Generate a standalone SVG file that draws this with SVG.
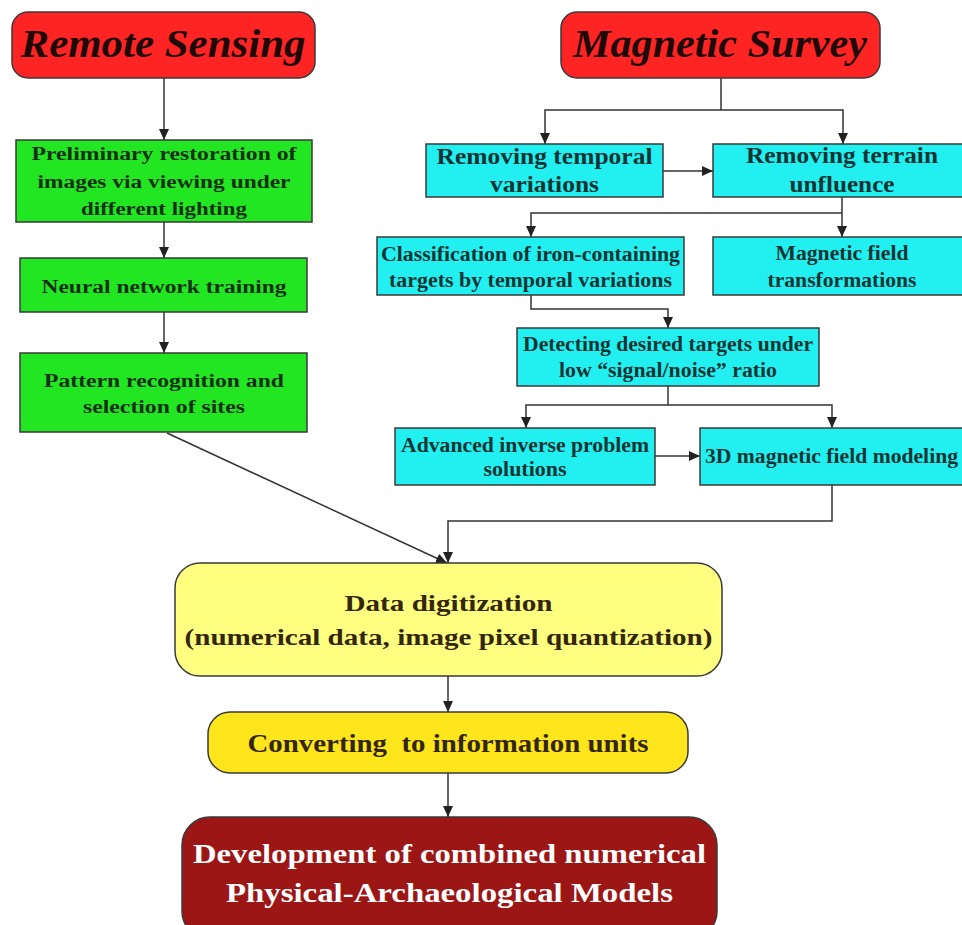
<svg xmlns="http://www.w3.org/2000/svg" width="962" height="925" viewBox="0 0 962 925">
<style>
text{font-family:'Liberation Serif','Tinos','Times New Roman',serif;font-weight:bold;text-anchor:middle}
.box{stroke:#3a3a3a;stroke-width:1.5}
.red{fill:#ff2424}
.grn{fill:#22e622}
.cyn{fill:#22f0f0}
.yl1{fill:#ffff80}
.yl2{fill:#ffe51c}
.drd{fill:#9c1616}
.title{font-style:italic;font-size:40.5px;fill:#1e0808}
.tg{font-size:18.5px;fill:#163016}
.tc{font-size:23px;fill:#0e3434}
.tcs{font-size:20px;fill:#0e3434}
.ty{font-size:23.5px;fill:#33260a}
.ty2{font-size:26px;fill:#33260a;white-space:pre}
.tw{font-size:26.5px;fill:#ffffff}
.conn path{fill:none;stroke:#333;stroke-width:1.5}
</style>
<defs>
<marker id="ah" markerUnits="userSpaceOnUse" markerWidth="11" markerHeight="10" refX="11" refY="5" orient="auto">
<path d="M0,0 L11,5 L0,10 z" fill="#222"/>
</marker>
</defs>
<rect width="962" height="925" fill="#ffffff"/>

<g id="connectors" class="conn">
<path d="M164,78 V140" marker-end="url(#ah)"/>
<path d="M164,222 V258" marker-end="url(#ah)"/>
<path d="M164,312 V353" marker-end="url(#ah)"/>
<path d="M167,433 L447,563" marker-end="url(#ah)"/>
<path d="M721,78 V110"/>
<path d="M721,110 H545 V144" marker-end="url(#ah)"/>
<path d="M721,110 H843 V144" marker-end="url(#ah)"/>
<path d="M663,171 H713" marker-end="url(#ah)"/>
<path d="M842,197 V237" marker-end="url(#ah)"/>
<path d="M842,213 H531 V237" marker-end="url(#ah)"/>
<path d="M531,295 V309 H668 V328" marker-end="url(#ah)"/>
<path d="M668,386 V405"/>
<path d="M668,405 H526 V428" marker-end="url(#ah)"/>
<path d="M668,405 H832 V428" marker-end="url(#ah)"/>
<path d="M655,456 H700" marker-end="url(#ah)"/>
<path d="M832,485 V521 H448 V563" marker-end="url(#ah)"/>
<path d="M448,676 V712" marker-end="url(#ah)"/>
<path d="M448,773 V817" marker-end="url(#ah)"/>
</g>

<g id="remote-sensing">
<rect class="box red" x="12" y="12" width="303" height="66" rx="16"/>
<text class="title" x="163" y="57" textLength="285" lengthAdjust="spacingAndGlyphs">Remote Sensing</text>
</g>
<g id="magnetic-survey">
<rect class="box red" x="561" y="12" width="319" height="66" rx="16"/>
<text class="title" x="720" y="57" textLength="294" lengthAdjust="spacingAndGlyphs">Magnetic Survey</text>
</g>

<g id="preliminary-restoration">
<rect class="box grn" x="16" y="140" width="296" height="82"/>
<text class="tg" x="164" y="160" textLength="265" lengthAdjust="spacingAndGlyphs">Preliminary restoration of</text>
<text class="tg" x="164" y="188" textLength="253" lengthAdjust="spacingAndGlyphs">images via viewing under</text>
<text class="tg" x="164" y="215" textLength="166" lengthAdjust="spacingAndGlyphs">different lighting</text>
</g>
<g id="neural-network">
<rect class="box grn" x="20" y="258" width="287" height="54"/>
<text class="tg" x="164" y="293" textLength="245" lengthAdjust="spacingAndGlyphs">Neural network training</text>
</g>
<g id="pattern-recognition">
<rect class="box grn" x="20" y="353" width="287" height="79"/>
<text class="tg" x="164" y="387" textLength="240" lengthAdjust="spacingAndGlyphs">Pattern recognition and</text>
<text class="tg" x="164" y="413" textLength="162" lengthAdjust="spacingAndGlyphs">selection of sites</text>
</g>

<g id="removing-temporal">
<rect class="box cyn" x="426" y="144" width="237" height="53"/>
<text class="tc" x="544.5" y="164" textLength="216" lengthAdjust="spacingAndGlyphs">Removing temporal</text>
<text class="tc" x="544.5" y="192" textLength="109" lengthAdjust="spacingAndGlyphs">variations</text>
</g>
<g id="removing-terrain">
<rect class="box cyn" x="713" y="144" width="258" height="53"/>
<text class="tc" x="842" y="163" textLength="192" lengthAdjust="spacingAndGlyphs">Removing terrain</text>
<text class="tc" x="842" y="192" textLength="105" lengthAdjust="spacingAndGlyphs">unfluence</text>
</g>
<g id="classification">
<rect class="box cyn" x="377" y="237" width="307" height="58"/>
<text class="tcs" x="530.5" y="261" textLength="299" lengthAdjust="spacingAndGlyphs">Classification of iron-containing</text>
<text class="tcs" x="530.5" y="287" textLength="283" lengthAdjust="spacingAndGlyphs">targets by temporal variations</text>
</g>
<g id="field-transformations">
<rect class="box cyn" x="713" y="237" width="258" height="58"/>
<text class="tcs" x="842" y="260" textLength="133" lengthAdjust="spacingAndGlyphs">Magnetic field</text>
<text class="tcs" x="842" y="287" textLength="149" lengthAdjust="spacingAndGlyphs">transformations</text>
</g>
<g id="detecting">
<rect class="box cyn" x="517" y="328" width="302" height="58"/>
<text class="tcs" x="668" y="351" textLength="290" lengthAdjust="spacingAndGlyphs">Detecting desired targets under</text>
<text class="tcs" x="668" y="377" textLength="218" lengthAdjust="spacingAndGlyphs">low “signal/noise” ratio</text>
</g>
<g id="inverse-problem">
<rect class="box cyn" x="395" y="428" width="260" height="57"/>
<text class="tcs" x="525" y="452" textLength="248" lengthAdjust="spacingAndGlyphs">Advanced inverse problem</text>
<text class="tcs" x="525" y="476" textLength="83" lengthAdjust="spacingAndGlyphs">solutions</text>
</g>
<g id="field-modeling">
<rect class="box cyn" x="700" y="428" width="263" height="57"/>
<text class="tcs" x="831.5" y="463" textLength="253" lengthAdjust="spacingAndGlyphs">3D magnetic field modeling</text>
</g>

<g id="data-digitization">
<rect class="box yl1" x="175" y="563" width="547" height="113" rx="25"/>
<text class="ty" x="448.5" y="611" textLength="208" lengthAdjust="spacingAndGlyphs">Data digitization</text>
<text class="ty" x="448.5" y="645" textLength="528" lengthAdjust="spacingAndGlyphs">(numerical data, image pixel quantization)</text>
</g>
<g id="information-units">
<rect class="box yl2" x="208" y="712" width="480" height="61" rx="22"/>
<text class="ty2" x="448" y="752" textLength="401" lengthAdjust="spacingAndGlyphs">Converting  to information units</text>
</g>
<g id="combined-models">
<rect class="box drd" x="182" y="817" width="535" height="122" rx="28"/>
<text class="tw" x="449.5" y="863" textLength="513" lengthAdjust="spacingAndGlyphs">Development of combined numerical</text>
<text class="tw" x="449.5" y="902" textLength="447" lengthAdjust="spacingAndGlyphs">Physical-Archaeological Models</text>
</g>
</svg>
